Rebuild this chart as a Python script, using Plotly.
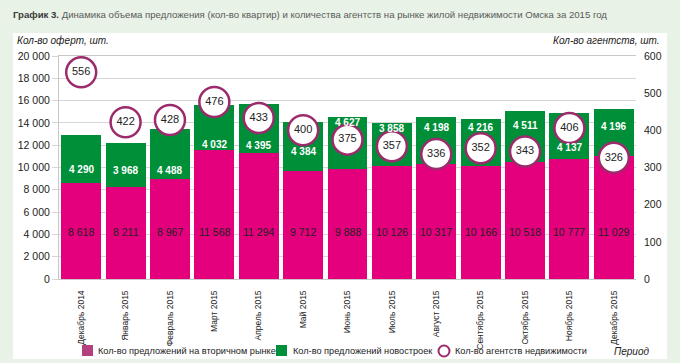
import plotly.graph_objects as go

months = ["Декабрь 2014", "Январь 2015", "Февраль 2015", "Март 2015", "Апрель 2015", "Май 2015",
          "Июнь 2015", "Июль 2015", "Август 2015", "Сентябрь 2015", "Октябрь 2015",
          "Ноябрь 2015", "Декабрь 2015"]
secondary = [8618, 8211, 8967, 11568, 11294, 9712, 9888, 10126, 10317, 10166, 10518, 10777, 11029]
new_builds = [4290, 3968, 4488, 4032, 4395, 4384, 4627, 3858, 4198, 4216, 4511, 4137, 4196]
agencies = [556, 422, 428, 476, 433, 400, 375, 357, 336, 352, 343, 406, 326]
left_ticks = list(range(0, 20001, 2000))
right_ticks = list(range(0, 601, 100))

name_sec = "Кол-во предложений на вторичном рынке"
name_new = "Кол-во предложений новостроек"
name_ag = "Кол-во агентств недвижимости"

# label placement style for the green segment labels: anchor edge and pixel offset into the segment
new_label_anchor = ["bottom", "bottom", "bottom", "bottom", "bottom", "bottom", "top", "top",
                    "top", "top", "top", "bottom", "top"]
new_label_offset = [13, 17, 9, 6, 8, 19, 5, 5, 10, 9, 14, 11, 17]
SEC_LABEL_Y = 4200

FONT = "Liberation Sans, Arial, sans-serif"
PINK = "#e4007c"
PINK_LEG = "#b5407f"
GREEN = "#008f39"
PURPLE = "#9c2b6c"
BG = "#e8f2e6"
TXT = "#222"


def fmt(v):
    return f"{v:,}".replace(",", " ")


# pixel -> paper helpers (plot area: x 59..636, y 56..279)
L, R, T, B = 59, 636, 56, 279


def px(x):
    return (x - L) / (R - L)


def py(y):
    return (B - y) / (B - T)


fig = go.Figure()
fig.add_trace(go.Bar(x=months, y=secondary, name=name_sec,
                     marker=dict(color=PINK, line=dict(width=0)), hoverinfo="skip"))
fig.add_trace(go.Bar(x=months, y=new_builds, name=name_new,
                     marker=dict(color=GREEN, line=dict(width=0)), hoverinfo="skip"))
fig.add_trace(go.Scatter(x=months, y=agencies, yaxis="y2", mode="markers+text", name=name_ag,
                         text=[str(a) for a in agencies], textposition="middle center",
                         textfont=dict(family=FONT, size=11, color=TXT),
                         marker=dict(size=30, color="white", line=dict(color=PURPLE, width=2.5)),
                         hoverinfo="skip"))

ann = []
for m, s, n, a, o in zip(months, secondary, new_builds, new_label_anchor, new_label_offset):
    ann.append(dict(x=m, y=SEC_LABEL_Y, text=fmt(s), showarrow=False, yanchor="middle",
                    font=dict(family=FONT, size=10.5, color=TXT)))
    if a == "bottom":
        d = dict(y=s, yshift=o)
    else:
        d = dict(y=s + n, yshift=-o)
    ann.append(dict(x=m, text="<b>" + fmt(n) + "</b>", showarrow=False, yanchor="middle",
                    font=dict(family=FONT, size=10, color="white"), **d))

LEG_FONT = dict(family=FONT, size=9.2, color=TXT)
ann += [
    dict(xref="paper", yref="paper", x=px(15), y=py(40), xanchor="left", yanchor="middle",
         text="<i>Кол-во оферт, шт.</i>", showarrow=False, font=dict(family=FONT, size=10, color=TXT)),
    dict(xref="paper", yref="paper", x=px(662), y=py(40), xanchor="right", yanchor="middle",
         text="<i>Кол-во агентств, шт.</i>", showarrow=False, font=dict(family=FONT, size=10, color=TXT)),
    dict(xref="paper", yref="paper", x=px(651), y=py(351), xanchor="right", yanchor="middle",
         text="<i>Период</i>", showarrow=False, font=dict(family=FONT, size=10, color=TXT)),
    dict(xref="paper", yref="paper", x=px(11), y=py(15), xanchor="left", yanchor="middle",
         text="<b><span style='color:#3a3a3a'>График 3.</span></b> Динамика объема предложения (кол-во квартир) и количества агентств на рынке жилой недвижимости Омска за 2015 год",
         showarrow=False, font=dict(family=FONT, size=9.6, color="#5a5a5a")),
    dict(xref="paper", yref="paper", x=px(96), y=py(351), xanchor="left", yanchor="middle",
         text=name_sec, showarrow=False, font=LEG_FONT),
    dict(xref="paper", yref="paper", x=px(291), y=py(351), xanchor="left", yanchor="middle",
         text=name_new, showarrow=False, font=LEG_FONT),
    dict(xref="paper", yref="paper", x=px(453), y=py(351), xanchor="left", yanchor="middle",
         text=name_ag, showarrow=False, font=LEG_FONT),
]

shapes = [
    dict(type="rect", xref="paper", yref="paper", x0=px(13), x1=px(667), y0=py(359), y1=py(33),
         fillcolor="white", line=dict(width=0), layer="below"),
    dict(type="rect", xref="paper", yref="paper", x0=px(82), x1=px(93), y0=py(356), y1=py(345),
         fillcolor=PINK_LEG, line=dict(width=0)),
    dict(type="rect", xref="paper", yref="paper", x0=px(276), x1=px(287), y0=py(356), y1=py(345),
         fillcolor=GREEN, line=dict(width=0)),
    dict(type="circle", xref="paper", yref="paper", x0=px(438.5), x1=px(449.5), y0=py(356.5), y1=py(345.5),
         fillcolor="white", line=dict(color=PURPLE, width=2)),
]

fig.update_layout(
    width=680, height=363,
    margin=dict(l=L, r=680 - R, t=T, b=363 - B),
    paper_bgcolor=BG, plot_bgcolor="white",
    separators=", ",
    barmode="stack", bargap=0.1,
    showlegend=False,
    font=dict(family=FONT, size=10, color=TXT),
    xaxis=dict(tickangle=-90, tickfont=dict(size=8.5), showline=True, linecolor="#c8c8c8",
               mirror=True, ticks="", showgrid=False, automargin=False, range=[-0.5, 12.5],
               ticklabelstandoff=7),
    yaxis=dict(range=[0, 20000], tickvals=left_ticks, tickformat=",d", showgrid=True,
               gridcolor="#d6d6d6", ticks="outside", ticklen=6, tickcolor="#d6d6d6",
               showline=True, linecolor="#c8c8c8", zeroline=False, tickfont=dict(size=10.5),
               automargin=False),
    yaxis2=dict(range=[0, 600], tickvals=right_ticks, overlaying="y", side="right",
                showgrid=False, zeroline=False, tickfont=dict(size=10.5), ticks="",
                automargin=False, ticklabelstandoff=7),
    annotations=ann,
    shapes=shapes,
)

fig.write_html("out.html", config={"displayModeBar": False},
               post_script="document.body.style.margin='0';document.body.style.background='" + BG + "';")
